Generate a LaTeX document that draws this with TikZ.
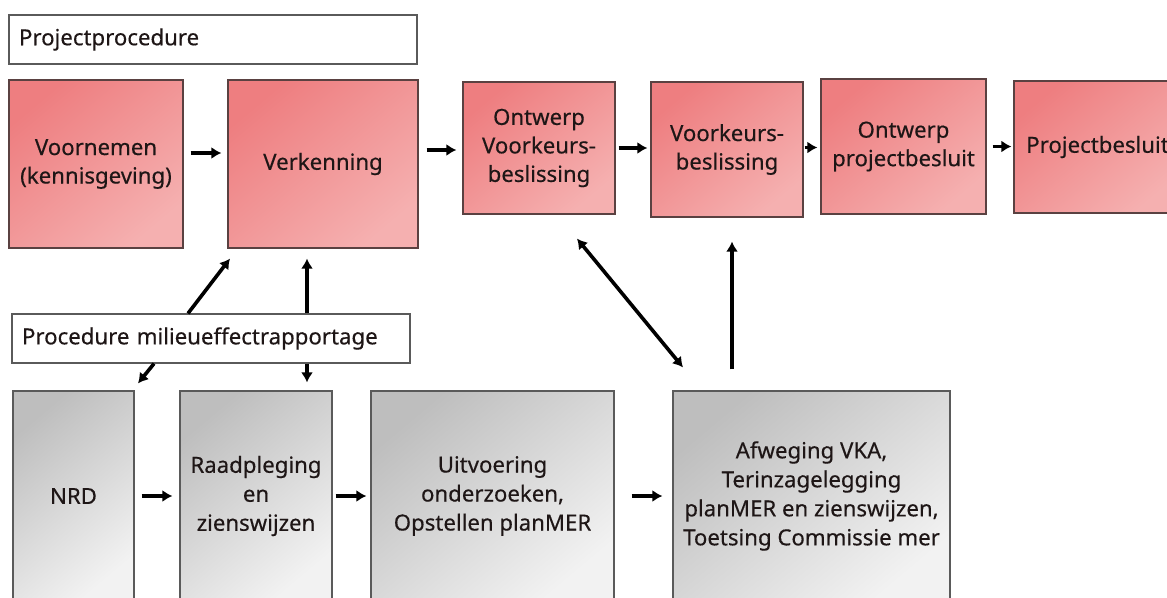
\documentclass[tikz,border=0pt]{standalone}
\usepackage{fontspec}
\setmainfont{Noto Sans}[BoldFont=Noto Sans, BoldFeatures={FakeBold=0.35}]
\usetikzlibrary{arrows.meta,calc}
\definecolor{redA}{RGB}{238,126,128}
\definecolor{redB}{RGB}{245,176,176}
\definecolor{grayA}{RGB}{190,190,190}
\definecolor{grayB}{RGB}{242,242,242}
\definecolor{redline}{RGB}{90,65,65}
\definecolor{grayline}{RGB}{90,90,90}
\definecolor{txt}{RGB}{30,22,22}
\tikzset{
  redbox/.style={draw=redline, line width=1.2pt, top color=redA, bottom color=redB, shading angle=40,
    minimum width=#1, inner sep=0pt, align=center, text=txt,
    font=\fontsize{22.2}{28.5}\selectfont\bfseries},
  graybox/.style={draw=grayline, line width=1.2pt, top color=grayA, bottom color=grayB, shading angle=40,
    minimum width=#1, minimum height=210pt, inner sep=0pt, align=center, text=txt,
    font=\fontsize{22.2}{29}\selectfont\bfseries},
  titlebox/.style={draw=grayline, line width=1.2pt, fill=white, minimum height=49pt,
    text width=#1, inner xsep=10pt, inner ysep=0pt, align=left, text=txt,
    font=\fontsize{22.2}{26}\selectfont\bfseries},
  arr/.style={draw=black, line width=3.6pt, -{Latex[length=10pt,width=12pt]}},
  darr/.style={draw=black, line width=3.6pt, {Latex[length=10pt,width=12pt]}-{Latex[length=10pt,width=12pt]}}
}
\begin{document}
\begin{tikzpicture}[x=1pt,y=-1pt]
\useasboundingbox (0,0) rectangle (1167,597);
\clip (0,0) rectangle (1167,597);
\fill[white] (0,0) rectangle (1167,597);

% top row
\node[titlebox=388pt] (pp) at (213,39.5) {Projectprocedure};
\node[redbox=174pt, minimum height=168pt] (voor) at (96,164) {Voornemen\\(kennisgeving)};
\node[redbox=190pt, minimum height=168pt] (verk) at (323,164) {Verkenning};
\node[redbox=152pt, minimum height=132pt] (ovb) at (539,148) {Ontwerp\\Voorkeurs-\\beslissing};
\node[redbox=152pt, minimum height=135pt] (vkb) at (727,149.5) {Voorkeurs-\\beslissing};
\node[redbox=165pt, minimum height=135pt] (opb) at (903.5,146.5) {Ontwerp\\projectbesluit};
\node[redbox=167pt, minimum height=132pt] (pb) at (1097.5,147) {Projectbesluit};

% bottom row
\node[titlebox=378pt] (pm) at (211,338.5) {Procedure milieueffectrapportage};
\node[graybox=121pt] (nrd) at (73.5,496) {NRD};
\node[graybox=152pt] (raad) at (256,496) {Raadpleging\\en\\zienswijzen};
\node[graybox=243pt] (uitv) at (492.5,496) {Uitvoering\\onderzoeken,\\Opstellen planMER};
\node[graybox=277pt] (afw) at (811.5,496) {Afweging VKA,\\Terinzagelegging\\planMER en zienswijzen,\\Toetsing Commissie mer};

% top arrows
\draw[arr] ([xshift=7pt,yshift=11pt]voor.east) -- ([xshift=-6pt,yshift=11pt]verk.west);
\draw[arr] ([xshift=8pt,yshift=14pt]verk.east) -- ([xshift=-6pt,yshift=-2pt]ovb.west);
\draw[arr, shorten <=3pt, shorten >=3pt] (ovb.east) -- (ovb.east -| vkb.west);
\draw[arr, shorten <=1pt, shorten >=3pt] ([yshift=2pt]vkb.east) -- ([yshift=2pt]vkb.east -| opb.west);
\draw[arr, shorten <=6pt, shorten >=2pt] (opb.east) -- (opb.east -| pb.west);

% bottom arrows
\draw[arr, shorten <=7pt, shorten >=7pt] (nrd.east) -- (raad.west);
\draw[arr, shorten <=3pt, shorten >=4pt] (raad.east) -- (uitv.west);
\draw[arr, shorten <=17pt, shorten >=10pt] (uitv.east) -- (afw.west);

% vertical connections
\draw[arr] ([xshift=-23pt]pm.north) -- ([xshift=-93pt,yshift=-10pt]verk.south);
\draw[arr] ([xshift=96pt]pm.north) -- ([xshift=-16pt,yshift=-10pt]verk.south);
\draw[arr] ([xshift=-57pt]pm.south) -- ([xshift=64.5pt,yshift=7pt]nrd.north);
\draw[arr] ([xshift=96pt]pm.south) -- ([xshift=51pt,yshift=8pt]raad.north);
\draw[darr] ([xshift=38pt,yshift=-24pt]ovb.south) -- ([xshift=-128.5pt,yshift=23pt]afw.north);
\draw[arr] ([xshift=-79.5pt,yshift=21pt]afw.north) -- ([xshift=5pt,yshift=-24pt]vkb.south);
\end{tikzpicture}
\end{document}
